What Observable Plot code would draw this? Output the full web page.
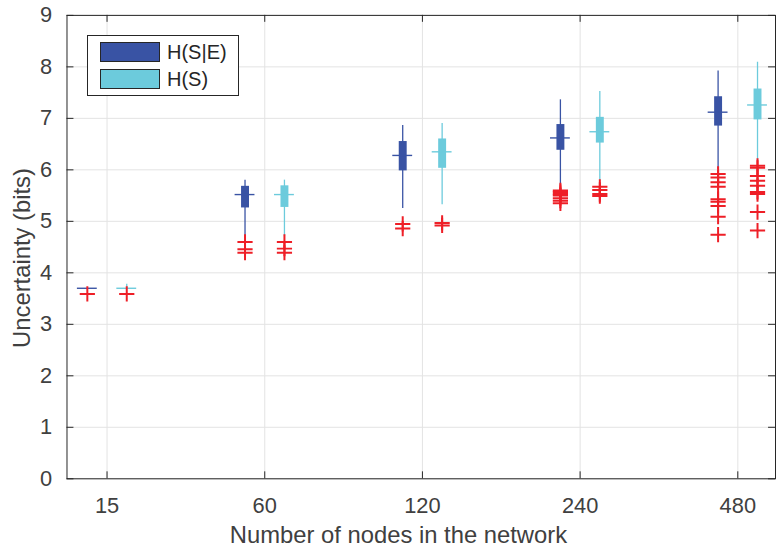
<!DOCTYPE html>
<html><head><meta charset="utf-8">
<script src="https://cdn.jsdelivr.net/npm/d3@7"></script>
<script src="https://cdn.jsdelivr.net/npm/@observablehq/plot@0.6"></script>
<style>
html,body{margin:0;padding:0;overflow:hidden;background:#fff;}
#wrap{position:relative;width:776px;height:550px;overflow:hidden;}
#legend{position:absolute;left:87px;top:35px;width:150px;height:59px;border:1px solid #262626;background:#fff;font-family:"Liberation Sans",Arial,Helvetica,sans-serif;font-size:20px;color:#262626;}
.sw{position:absolute;left:12px;width:58px;height:18px;border:1px solid #262626;}
.lt{position:absolute;left:79px;line-height:20px;}
</style></head><body><div id="wrap"><div id="chart"></div><div id="legend"></div></div>
<script>
// ---- data ----
const categories = ["15", "60", "120", "240", "480"];
const seriesNames = ["H(S|E)", "H(S)"];
const seriesColors = ["#3953a4", "#6ccbdc"];
const outlierColor = "#ee1f27";

// H(S|E)
const hseWhiskerLow  = [3.70, 4.66, 5.25, 5.69, 6.01];
const hseQ1          = [3.70, 5.26, 5.98, 6.38, 6.85];
const hseMedian      = [3.70, 5.52, 6.28, 6.62, 7.12];
const hseQ3          = [3.70, 5.68, 6.55, 6.88, 7.42];
const hseWhiskerHigh = [3.70, 5.80, 6.86, 7.36, 7.92];
const hseOutliers = [
  [3.59],
  [4.60, 4.46, 4.39],
  [4.95, 4.86],
  [5.60, 5.57, 5.53, 5.50, 5.45, 5.40, 5.35],
  [5.92, 5.85, 5.76, 5.67, 5.43, 5.38, 5.30, 5.09, 4.74]
];

// H(S)
const hsWhiskerLow  = [3.70, 4.70, 5.32, 5.79, 6.17];
const hsQ1          = [3.70, 5.27, 6.03, 6.52, 6.97];
const hsMedian      = [3.70, 5.52, 6.35, 6.74, 7.26];
const hsQ3          = [3.70, 5.69, 6.60, 7.02, 7.57];
const hsWhiskerHigh = [3.78, 5.80, 6.90, 7.52, 8.09];
const hsOutliers = [
  [3.59],
  [4.60, 4.47, 4.39],
  [4.97, 4.92],
  [5.67, 5.61, 5.53, 5.49],
  [6.08, 6.04, 5.88, 5.79, 5.69, 5.57, 5.53, 5.18, 4.82]
];

const yTicks = [0, 1, 2, 3, 4, 5, 6, 7, 8, 9];
const xLabel = "Number of nodes in the network";
const yLabel = "Uncertainty (bits)";

// ---- build tables ----
const dodge = [-0.125, 0.125];
const halfMedian = 0.063;
const stats = [
  [hseWhiskerLow, hseQ1, hseMedian, hseQ3, hseWhiskerHigh, hseOutliers],
  [hsWhiskerLow, hsQ1, hsMedian, hsQ3, hsWhiskerHigh, hsOutliers]
];
const boxes = [];
const outliers = [];
stats.forEach(([lo, q1, med, q3, hi, outs], s) => {
  categories.forEach((c, i) => {
    const pos = i + 1 + dodge[s];
    boxes.push({series: seriesNames[s], pos, lo: lo[i], q1: q1[i], med: med[i], q3: q3[i], hi: hi[i]});
    outs[i].forEach(v => outliers.push({series: seriesNames[s], pos, value: v}));
  });
});
const xTicks = categories.map((c, i) => i + 1);

const W = 782, H = 550, mL = 67, mR = 1, mT = 15, mB = 68;
const innerW = W - mL - mR, innerH = H - mT - mB;
const axisColor = "#262626";
const font = '"Liberation Sans", Arial, Helvetica, sans-serif';

const chart = Plot.plot({
  width: W, height: H,
  marginLeft: mL, marginRight: mR, marginTop: mT, marginBottom: mB,
  style: {fontFamily: font, fontSize: "22px", color: "#404040", background: "#fff", overflow: "visible"},
  x: {domain: [0.746, 5.239], axis: null},
  y: {domain: [0, 9], axis: null},
  color: {domain: seriesNames, range: seriesColors},
  marks: [
    Plot.ruleX(xTicks, {x: d => d, stroke: "#e3e3e3", strokeWidth: 1}),
    Plot.ruleY(yTicks, {y: d => d, stroke: "#e3e3e3", strokeWidth: 1}),
    // whiskers
    Plot.ruleX(boxes, {x: "pos", y1: "lo", y2: "hi", stroke: "series", strokeWidth: 1.3}),
    // boxes
    Plot.ruleX(boxes, {x: "pos", y1: "q1", y2: "q3", stroke: "series", strokeWidth: 8, strokeLinecap: "butt"}),
    // medians
    Plot.ruleY(boxes, {y: "med", x1: d => d.pos - halfMedian, x2: d => d.pos + halfMedian, stroke: "series", strokeWidth: 1.4}),
    // outliers
    Plot.dot(outliers, {x: "pos", y: "value", symbol: "plus", r: 5, stroke: outlierColor, strokeWidth: 2}),
    // frame & inward ticks
    Plot.frame({stroke: axisColor, strokeWidth: 1}),
    Plot.ruleX(xTicks, {x: d => d, insetTop: innerH - 7, stroke: axisColor}),
    Plot.ruleX(xTicks, {x: d => d, insetBottom: innerH - 7, stroke: axisColor}),
    Plot.ruleY(yTicks, {y: d => d, insetRight: innerW - 7, stroke: axisColor}),
    Plot.ruleY(yTicks, {y: d => d, insetLeft: innerW - 7, stroke: axisColor}),
    // tick labels
    Plot.axisX(xTicks, {x: d => d, tickSize: 0, tickPadding: 19, tickFormat: d => categories[d - 1], label: null, fontSize: 22}),
    Plot.axisY(yTicks, {y: d => d, tickSize: 0, tickPadding: 15, tickFormat: d => String(d), label: null, fontSize: 22}),
    // axis titles
    Plot.text([xLabel], {text: d => d, frameAnchor: "bottom", textAnchor: "middle", lineAnchor: "middle", dx: -23, dy: 57, fontSize: 24, fill: "#404040"}),
    Plot.text([yLabel], {text: d => d, frameAnchor: "left", textAnchor: "middle", lineAnchor: "middle", rotate: -90, dx: -45, dy: 11, fontSize: 24, fill: "#404040"})
  ]
});
document.getElementById("chart").appendChild(chart);

// legend
const lg = document.getElementById("legend");
seriesNames.forEach((n, i) => {
  const sw = document.createElement("div");
  sw.className = "sw";
  sw.style.top = (6 + i * 26.7) + "px";
  sw.style.background = seriesColors[i];
  lg.appendChild(sw);
  const t = document.createElement("div");
  t.className = "lt";
  t.style.top = (6 + i * 26.7) + "px";
  t.textContent = n;
  lg.appendChild(t);
});
</script></body></html>
